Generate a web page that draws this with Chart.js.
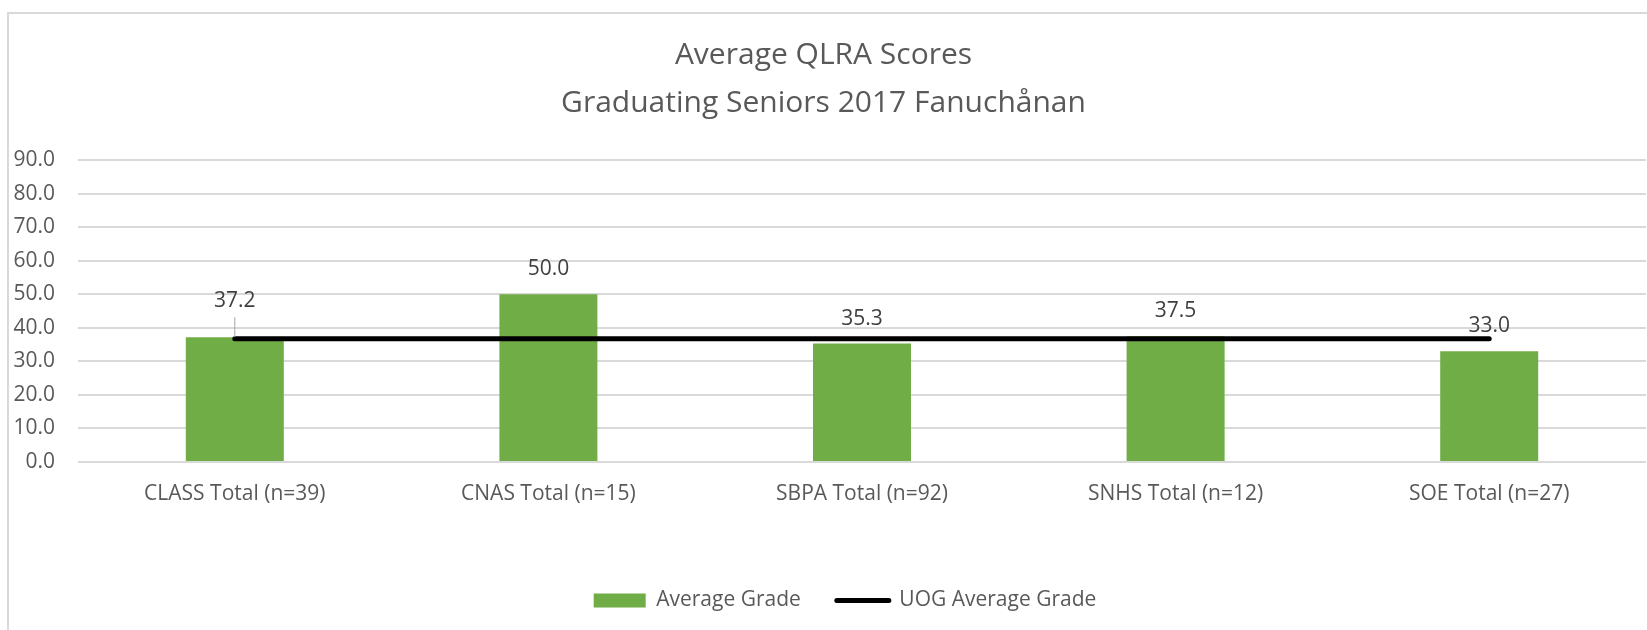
<!DOCTYPE html>
<html>
<head>
<meta charset="utf-8">
<title>Average QLRA Scores</title>
<script src="https://cdn.jsdelivr.net/npm/chart.js@4/dist/chart.umd.min.js"></script>
<style>
  html, body { margin: 0; padding: 0; background: #fff; }
  #wrap { position: relative; width: 1647px; height: 630px; }
</style>
</head>
<body>
<div id="wrap"><canvas id="qlraChart" width="1647" height="630"></canvas></div>
<script>
// ── DATA ───────────────────────────────────────────────────
const categories   = ['CLASS Total (n=39)', 'CNAS Total (n=15)', 'SBPA Total (n=92)', 'SNHS Total (n=12)', 'SOE Total (n=27)'];
const averageGrade = [37.2, 50.0, 35.3, 37.5, 33.0];
const uogAverage   = [36.7, 36.7, 36.7, 36.7, 36.7];
const yTicks       = [0, 10, 20, 30, 40, 50, 60, 70, 80, 90];
const titleLines   = ['Average QLRA Scores', 'Graduating Seniors 2017 Fanuchånan'];

const FONT = "'Open Sans', 'Noto Sans', sans-serif";
const GREY_TEXT = '#595959';

// ── PLUGINS ────────────────────────────────────────────────
// Excel-style chart frame + title
const frameAndTitle = {
  id: 'frameAndTitle',
  afterLayout(chart) {
    // Excel sets the legend a little right of centre
    chart.legend.left += 22;
    chart.legend.right += 22;
  },
  beforeDraw(chart) {
    const ctx = chart.ctx;
    ctx.save();
    ctx.strokeStyle = '#d9d9d9';
    ctx.lineWidth = 2;
    ctx.beginPath();
    ctx.moveTo(8, chart.height);
    ctx.lineTo(8, 13);
    ctx.lineTo(chart.width, 13);
    ctx.stroke();

    ctx.fillStyle = GREY_TEXT;
    ctx.font = `30px ${FONT}`;
    ctx.textAlign = 'center';
    ctx.textBaseline = 'middle';
    titleLines.forEach((t, i) => ctx.fillText(t, chart.width / 2, 55 + i * 48));
    ctx.restore();
  }
};

// value labels above the bars (first one lifted with a leader line)
const barLabels = {
  id: 'barLabels',
  afterDatasetsDraw(chart) {
    const ctx = chart.ctx;
    const meta = chart.getDatasetMeta(0);
    ctx.save();
    ctx.font = `21px ${FONT}`;
    ctx.fillStyle = '#404040';
    ctx.textAlign = 'center';
    ctx.textBaseline = 'middle';
    meta.data.forEach((bar, i) => {
      const lift = i === 0 ? 36 : 25;
      if (i === 0) {
        ctx.strokeStyle = '#a6a6a6';
        ctx.lineWidth = 1;
        ctx.beginPath();
        ctx.moveTo(bar.x, bar.y - lift + 16);
        ctx.lineTo(bar.x, bar.y);
        ctx.stroke();
      }
      ctx.fillText(averageGrade[i].toFixed(1), bar.x, bar.y - lift);
    });
    ctx.restore();
  }
};

// ── CHART ──────────────────────────────────────────────────
const chartEl = document.getElementById('qlraChart');

new Chart(chartEl, {
  type: 'bar',
  data: {
    labels: categories,
    datasets: [
      {
        label: 'Average Grade',
        data: averageGrade,
        backgroundColor: '#70ad47',
        borderWidth: 0,
        categoryPercentage: 1,
        barPercentage: 0.3125,
        order: 1,
      },
      {
        label: 'UOG Average Grade',
        type: 'line',
        data: uogAverage,
        borderColor: '#000000',
        backgroundColor: '#000000',
        borderWidth: 5,
        borderCapStyle: 'round',
        pointRadius: 0,
        fill: false,
        order: 0,
      }
    ]
  },
  options: {
    responsive: false,
    animation: false,
    layout: { padding: { top: 160, right: 1, bottom: 9, left: 0 } },
    plugins: {
      title: { display: false },
      tooltip: { enabled: false },
      legend: {
        position: 'bottom',
        labels: {
          color: GREY_TEXT,
          font: { family: FONT, size: 21 },
          usePointStyle: true,
          pointStyleWidth: 52,
          boxHeight: 14,
          padding: 36,
          generateLabels: chart => chart.data.datasets.map((ds, i) => ({
            text: ds.label,
            fillStyle: ds.backgroundColor,
            strokeStyle: ds.borderColor,
            lineWidth: i === 0 ? 0 : 5,
            lineCap: 'round',
            pointStyle: i === 0 ? 'rect' : 'line',
            fontColor: GREY_TEXT,
            datasetIndex: i,
          }))
        }
      }
    },
    scales: {
      x: {
        grid: { display: false, drawTicks: false },
        border: { display: false },
        ticks: { color: GREY_TEXT, font: { family: FONT, size: 21 }, padding: 19, maxRotation: 0 },
        afterFit: s => { s.height = 92; }
      },
      y: {
        min: 0,
        max: 90,
        afterBuildTicks: s => { s.ticks = yTicks.map(v => ({ value: v })); },
        grid: { color: '#d9d9d9', lineWidth: 2, drawTicks: false },
        border: { display: false },
        ticks: {
          color: GREY_TEXT,
          font: { family: FONT, size: 21 },
          padding: 23,
          callback: v => Number(v).toFixed(1)
        },
        afterFit: s => { s.width = 78; }
      }
    }
  },
  plugins: [frameAndTitle, barLabels]
});
</script>
</body>
</html>
